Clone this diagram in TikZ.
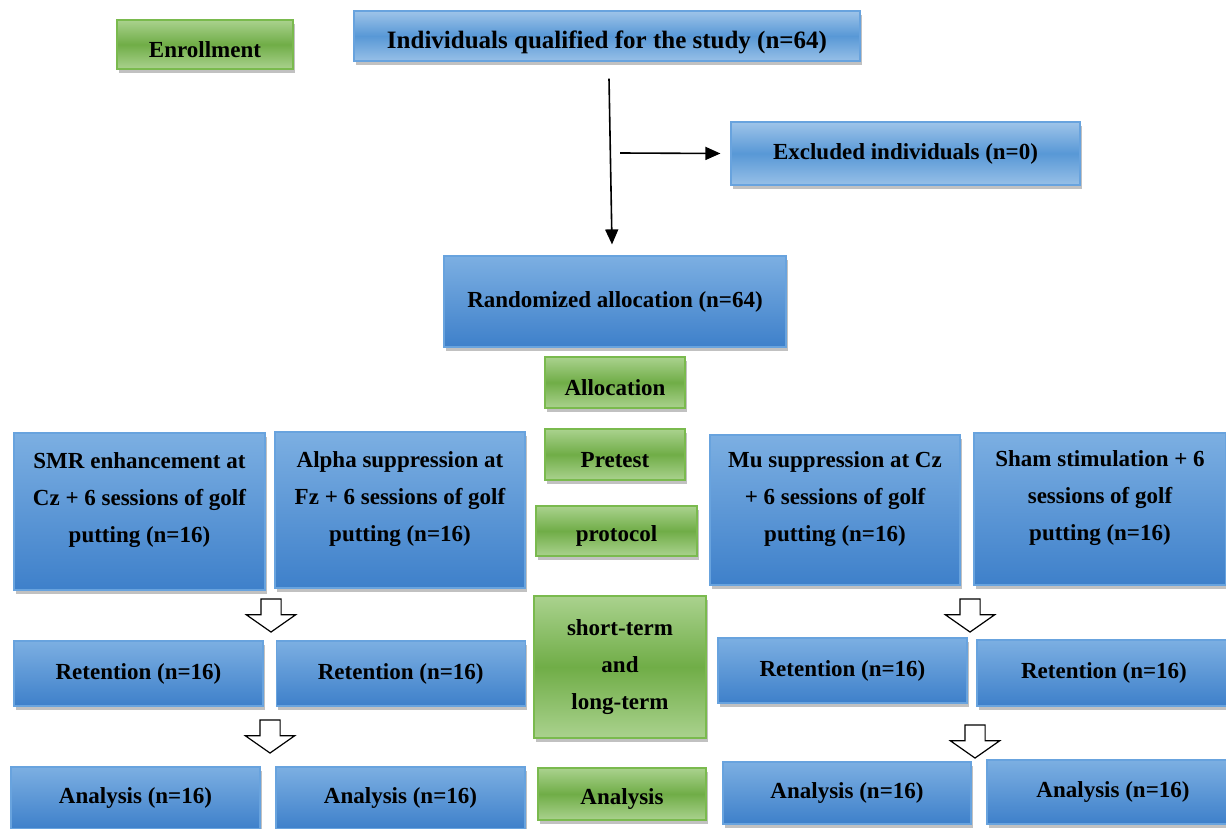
\documentclass[tikz,border=0pt]{standalone}
\usepackage{fontspec}
\setmainfont{Liberation Serif}
\usetikzlibrary{positioning, shapes.arrows, shadows, arrows.meta}

\definecolor{blueTop}{RGB}{124,175,226}
\definecolor{blueBot}{RGB}{62,128,202}
\definecolor{blueLite}{RGB}{158,196,233}
\definecolor{blueMid}{RGB}{88,152,214}
\definecolor{blueEdge}{RGB}{104,163,222}
\definecolor{greenLite}{RGB}{170,210,142}
\definecolor{greenMid}{RGB}{112,173,71}
\definecolor{greenEdge}{RGB}{122,186,78}

\begin{document}
\begin{tikzpicture}[x=1pt, y=-1pt]
    % Styles
    \tikzset{
        box/.style={rectangle, line width=1.2pt, align=center, inner sep=2pt, font=\bfseries\fontsize{23}{37}\selectfont, drop shadow={shadow xshift=2pt, shadow yshift=-4pt, opacity=0.35, fill=black!70}},
        blue_box/.style={box, draw=blueEdge, top color=blueTop, bottom color=blueBot},
        blue_band/.style={box, draw=blueEdge, top color=blueLite, bottom color=blueLite!90!blueMid, middle color=blueMid},
        green_box/.style={box, draw=greenEdge, top color=greenLite, bottom color=greenLite, middle color=greenMid},
        stage_lbl/.style={green_box, text height=26pt},
        group_box/.style={blue_box, text depth=27pt},
        hollow_arrow/.style={single arrow, draw, fill=white, line width=1.2pt, rotate=-90, minimum height=33pt, single arrow head extend=14.5pt, single arrow tip angle=110, single arrow head indent=0pt, inner xsep=0pt, inner ysep=9.5pt},
        arr/.style={line width=1.6pt, -{Triangle[width=13pt, length=15pt]}}
    }

    \useasboundingbox (0,0) rectangle (1226,829);

    % --- Nodes ---

    % Enrollment stage
    \node[stage_lbl, minimum width=176pt, minimum height=49pt] (enroll) at (205,44.5) {Enrollment};
    \node[blue_band, minimum width=506pt, minimum height=50pt, text height=30pt, font=\bfseries\fontsize{25}{30}\selectfont] (qualified) at (607,36) {Individuals qualified for the study (n=64)};
    \node[blue_band, minimum width=349pt, minimum height=63pt] (excluded) at (905.5,153.5) {Excluded individuals (n=0)};
    \node[blue_box, minimum width=342pt, minimum height=91pt] (random) at (615,301.5) {Randomized allocation (n=64)};

    % Middle column: stage labels
    \node[stage_lbl, minimum width=140pt, minimum height=51pt] (allocation) at (615,382.5) {Allocation};
    \node[stage_lbl, minimum width=140pt, minimum height=51pt] (pretest) at (615,454.5) {Pretest};
    \node[stage_lbl, minimum width=161pt, minimum height=50pt] (protocol) at (616.5,531) {protocol};
    \node[green_box, minimum width=172pt, minimum height=142pt] (retention_lbl) at (620,667) {short-term\\and\\long-term};
    \node[stage_lbl, minimum width=168pt, minimum height=52pt] (analysis_lbl) at (622,794) {Analysis};

    % Groups
    \node[group_box, minimum width=251pt, minimum height=157pt] (smr) at (139.5,511.5) {SMR enhancement at\\Cz + 6 sessions of golf\\putting (n=16)};
    \node[group_box, minimum width=250pt, minimum height=156pt] (alpha) at (400,510) {Alpha suppression at\\Fz + 6 sessions of golf\\putting (n=16)};
    \node[group_box, minimum width=250pt, minimum height=150pt] (mu) at (835,510) {Mu suppression at Cz\\+ 6 sessions of golf\\putting (n=16)};
    \node[group_box, minimum width=252pt, minimum height=152pt] (sham) at (1100,509) {Sham stimulation + 6\\sessions of golf\\putting (n=16)};

    % Retention
    \node[blue_box, minimum width=249pt, minimum height=65pt] (ret_smr) at (138.5,673.5) {Retention (n=16)};
    \node[blue_box, minimum width=249pt, minimum height=65pt, right=12pt of ret_smr] (ret_alpha) {Retention (n=16)};
    \node[blue_box, minimum width=249pt, minimum height=65pt] (ret_mu) at (842.5,670.5) {Retention (n=16)};
    \node[blue_box, minimum width=254pt, minimum height=66pt] (ret_sham) at (1104,673) {Retention (n=16)};

    % Analysis
    \node[blue_box, minimum width=249pt, minimum height=62pt] (ana_smr) at (135.5,798) {Analysis (n=16)};
    \node[blue_box, minimum width=249pt, minimum height=62pt] (ana_alpha) at (400.5,798) {Analysis (n=16)};
    \node[blue_box, minimum width=248pt, minimum height=62pt] (ana_mu) at (847,793) {Analysis (n=16)};
    \node[blue_box, minimum width=252pt, minimum height=64pt] (ana_sham) at (1113,792) {Analysis (n=16)};

    % Hollow arrows between stages
    \node[hollow_arrow] (down_l1) at (271,612) {};
    \node[hollow_arrow] (down_l2) at (270,733) {};
    \node[hollow_arrow] (down_r1) at (970,612) {};
    \node[hollow_arrow] (down_r2) at (975,738) {};

    % --- Connections ---
    \coordinate (branch) at (620,153);
    \draw[arr] ([xshift=2pt, yshift=-17pt]qualified.south) -- ([xshift=-3pt, yshift=11pt]random.north);
    \draw[arr] (branch) -- ([xshift=-10pt]excluded.west);

\end{tikzpicture}
\end{document}
